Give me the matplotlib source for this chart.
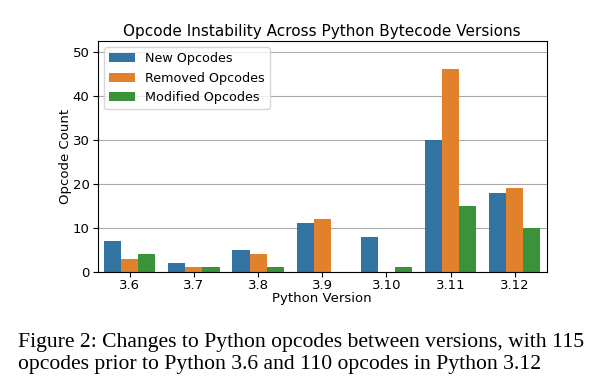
import matplotlib
matplotlib.use("Agg")
import matplotlib.pyplot as plt
import numpy as np
import colorsys
from matplotlib.colors import to_rgb

versions = ["3.6", "3.7", "3.8", "3.9", "3.10", "3.11", "3.12"]
new_ops = [7, 2, 5, 11, 8, 30, 18]
removed_ops = [3, 1, 4, 12, 0, 46, 19]
modified_ops = [4, 1, 1, 0, 1, 15, 10]
series_names = ["New Opcodes", "Removed Opcodes", "Modified Opcodes"]
series_values = [new_ops, removed_ops, modified_ops]


def desat(c, s=0.75):
    h, l, sat = colorsys.rgb_to_hls(*to_rgb(c))
    return colorsys.hls_to_rgb(h, l, sat * s)


colors = [desat(c) for c in ["#1f77b4", "#ff7f0e", "#2ca02c"]]

fig = plt.figure(figsize=(5.94, 3.86), dpi=100)
ax = fig.add_axes([0.1645, 0.2961, 0.7559, 0.5984])

x = np.arange(len(versions))
w = 0.8 / 3
for i, (name, vals) in enumerate(zip(series_names, series_values)):
    ax.bar(x - 0.4 + w * (i + 0.5), vals, width=w, color=colors[i], label=name, zorder=2)

ax.set_xlim(-0.5, len(versions) - 0.5)
ax.set_ylim(0, 52.5)
ax.set_yticks([0, 10, 20, 30, 40, 50])
ax.set_xticks(x)
ax.set_xticklabels(versions)
ax.yaxis.grid(True, color="#a8a8a8", linewidth=0.8, zorder=0)
ax.set_axisbelow(True)
ax.tick_params(labelsize=9.5, pad=2.5)
ax.tick_params(axis="x", pad=1.5)
ax.set_xlabel("Python Version", fontsize=9.5, labelpad=0)
ax.set_ylabel("Opcode Count", fontsize=9.5, labelpad=0.5)
ax.set_title("Opcode Instability Across Python Bytecode Versions", fontsize=11, pad=3.5)
ax.legend(loc="upper left", fontsize=9.2)

fig.text(0.031, 0.084, "Figure 2: Changes to Python opcodes between versions, with 115\nopcodes prior to Python 3.6 and 110 opcodes in Python 3.12",
         family="Liberation Serif", fontsize=15.6, ha="left", va="center", linespacing=1.16)

fig.savefig("out.png", dpi=100)
